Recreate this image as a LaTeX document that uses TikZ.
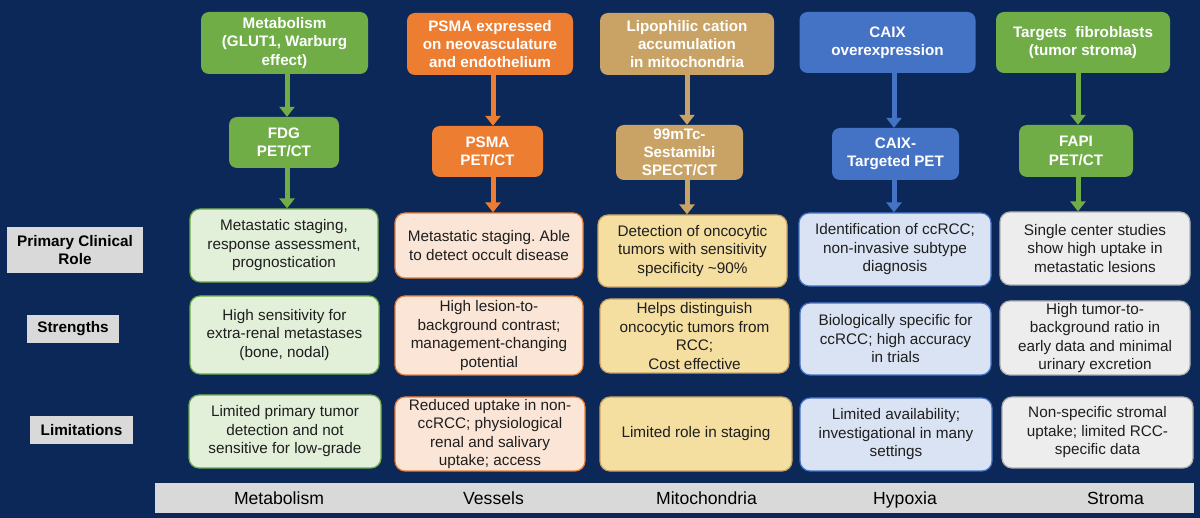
\documentclass[tikz,border=0pt]{standalone}
\usepackage{fontspec}
\setmainfont{Liberation Sans}
\usetikzlibrary{arrows.meta}
\definecolor{navy}{RGB}{12,40,89}
\definecolor{cgreen}{RGB}{112,173,71}
\definecolor{corange}{RGB}{237,125,49}
\definecolor{ctan}{RGB}{201,163,102}
\definecolor{cblue}{RGB}{68,114,196}
\definecolor{pgreen}{RGB}{226,239,217}
\definecolor{porange}{RGB}{251,229,214}
\definecolor{ptan}{RGB}{244,222,160}
\definecolor{pblue}{RGB}{218,227,243}
\definecolor{pgray}{RGB}{237,237,237}
\definecolor{bgray}{RGB}{175,175,175}
\definecolor{lgray}{RGB}{217,217,217}
\definecolor{txt}{RGB}{30,30,30}
\frenchspacing
\tikzset{
  hdr/.style={rounded corners=8pt, fill=#1, text=white, align=center, inner sep=1pt,
    font=\fontsize{15.2}{18.3}\selectfont\bfseries},
  cell/.style={rounded corners=10pt, draw=#1, line width=1.2pt, align=center, inner sep=1pt,
    text=txt, font=\fontsize{15.3}{18.5}\selectfont},
  rowlab/.style={fill=lgray, text=black, align=center, inner sep=1pt,
    font=\fontsize{15.3}{18.5}\selectfont\bfseries},
  botlab/.style={text=black, font=\fontsize{17.6}{20}\selectfont, anchor=base, inner sep=0pt},
  arr/.style={draw=#1, line width=5pt, -{Triangle[width=15pt,length=10pt]}},
}
\newcommand{\bx}[6]{\node[#1, minimum width=#4, minimum height=#5] (#2) at (#3) {#6};}
\begin{document}
\begin{tikzpicture}[x=1pt,y=-1pt]
\fill[navy] (0,0) rectangle (1200,518);
\useasboundingbox (0,0) rectangle (1200,518);

% column 1
\bx{hdr=cgreen}{t1}{284.5,43}{167}{62}{Metabolism\\(GLUT1, Warburg\\effect)}
\bx{hdr=cgreen}{m1}{284,142.5}{110}{51}{FDG\\PET/CT}
\bx{cell=cgreen,fill=pgreen}{r1}{284,245.5}{188}{73}{Metastatic staging,\\response assessment,\\prognostication}
\bx{cell=cgreen,fill=pgreen}{s1}{284.5,335}{189}{78}{High sensitivity for\\extra-renal metastases\\(bone, nodal)}
\bx{cell=cgreen,fill=pgreen}{l1}{285,431.5}{192}{73}{Limited primary tumor\\detection and not\\sensitive for low-grade}

% column 2
\bx{hdr=corange}{t2}{490,44}{166}{62}{PSMA expressed\\on neovasculature\\and endothelium}
\bx{hdr=corange}{m2}{487.5,151.5}{111}{51}{PSMA\\PET/CT}
\bx{cell=corange,fill=porange}{r2}{489,245.5}{188}{65}{Metastatic staging. Able\\to detect occult disease}
\bx{cell=corange,fill=porange}{s2}{489,335.5}{188}{79}{High lesion-to-\\background contrast;\\management-changing\\potential}
\bx{cell=corange,fill=porange}{l2}{490,434}{190}{74}{Reduced uptake in non-\\ccRCC; physiological\\renal and salivary\\uptake; access}

% column 3
\bx{hdr=ctan}{t3}{687,44}{174}{62}{Lipophilic cation\\accumulation\\in mitochondria}
\bx{hdr=ctan}{m3}{679.5,152.5}{127}{55}{99mTc-\\Sestamibi\\SPECT/CT}
\bx{cell=ctan,fill=ptan}{r3}{692.5,251}{189}{72}{Detection of oncocytic\\tumors with sensitivity\\specificity \textasciitilde90\%}
\bx{cell=ctan,fill=ptan}{s3}{694.5,336}{189}{74}{Helps distinguish\\oncocytic tumors from\\RCC;\\Cost effective}
\bx{cell=ctan,fill=ptan}{l3}{696,434}{192}{74}{Limited role in staging}

% column 4
\bx{hdr=cblue}{t4}{887.5,42.5}{176}{61}{CAIX\\overexpression}
\bx{hdr=cblue}{m4}{895.5,154}{127}{52}{CAIX-\\Targeted PET}
\bx{cell=cblue,fill=pblue}{r4}{895,249.5}{192}{73}{Identification of ccRCC;\\non-invasive subtype\\diagnosis}
\bx{cell=cblue,fill=pblue}{s4}{895.5,339}{191}{72}{Biologically specific for\\ccRCC; high accuracy\\in trials}
\bx{cell=cblue,fill=pblue}{l4}{896,434.5}{192}{73}{Limited availability;\\investigational in many\\settings}

% column 5
\bx{hdr=cgreen}{t5}{1083,42.5}{174}{61}{Targets\ \ fibroblasts\\(tumor stroma)}
\bx{hdr=cgreen}{m5}{1076,151}{114}{52}{FAPI\\PET/CT}
\bx{cell=bgray,fill=pgray}{r5}{1095,248.5}{190}{73}{Single center studies\\show high uptake in\\metastatic lesions}
\bx{cell=bgray,fill=pgray}{s5}{1095,338}{190}{74}{High tumor-to-\\background ratio in\\early data and minimal\\urinary excretion}
\bx{cell=bgray,fill=pgray}{l5}{1097.5,432.5}{191}{71}{Non-specific stromal\\uptake; limited RCC-\\specific data}

% arrows
\draw[arr=cgreen] (t1.south -| 287,0) -- (m1.north -| 287,0);
\draw[arr=cgreen] (m1.south -| 287,0) -- (r1.north -| 287,0);
\draw[arr=corange] (t2.south -| 493,0) -- (m2.north -| 493,0);
\draw[arr=corange] (m2.south -| 493,0) -- (r2.north -| 493,0);
\draw[arr=ctan] (t3.south -| 687,0) -- (m3.north -| 687,0);
\draw[arr=ctan] (m3.south -| 687,0) -- (r3.north -| 687,0);
\draw[arr=cblue] (t4.south -| 894,0) -- (m4.north -| 894,0);
\draw[arr=cblue] (m4.south -| 894,0) -- (r4.north -| 894,0);
\draw[arr=cgreen] (t5.south -| 1078,0) -- (m5.north -| 1078,0);
\draw[arr=cgreen] (m5.south -| 1078,0) -- (r5.north -| 1078,0);

% row labels
\bx{rowlab}{lab1}{75,250}{136}{46}{Primary Clinical\\Role}
\bx{rowlab}{lab2}{73,329}{92}{28}{Strengths}
\bx{rowlab}{lab3}{81.5,430}{103}{28}{Limitations}

% bottom bar
\node[fill=lgray, minimum width=1039, minimum height=30, inner sep=0pt] (bar) at (674.5,498) {};
\node[botlab] (b1) at (279,504.5) {Metabolism};
\node[botlab] (b2) at (493.5,504.5) {Vessels};
\node[botlab] (b3) at (706.5,504.5) {Mitochondria};
\node[botlab] (b4) at (905,504.5) {Hypoxia};
\node[botlab] (b5) at (1115.5,504.5) {Stroma};
\end{tikzpicture}
\end{document}
